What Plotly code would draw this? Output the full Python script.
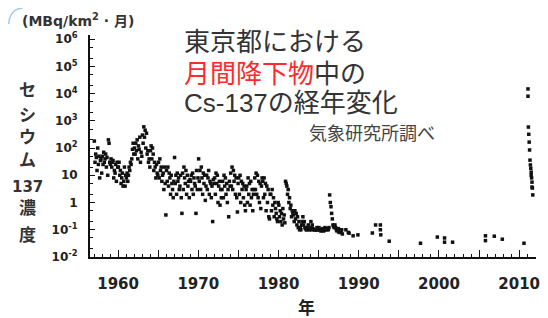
import plotly.graph_objects as go

# ---------------- data (monthly Cs-137 deposition, MBq/km2/month) ----------------
years_monthly = list(range(1957, 1988))
v1957 = [180, 30, 60, 45, 15, 100, 25, 50, 8, 35, 40, 12]
v1958 = [50, 25, 70, 30, 40, 60, 20, 45, 10, 200, 150, 30]
v1959 = [25, 40, 20, 30, 35, 8, 15, 12, 25, 6, 30, 20]
v1960 = [20, 30, 10, 15, 5, 8, 12, 4, 6, 20, 4, 10]
v1961 = [8, 12, 6, 10, 20, 15, 30, 25, 40, 90, 150, 60]
v1962 = [100, 60, 150, 80, 200, 40, 120, 90, 250, 30, 70, 50]
v1963 = [300, 150, 600, 250, 450, 100, 350, 60, 80, 30, 40, 20]
v1964 = [80, 120, 40, 100, 60, 15, 30, 20, 8, 25, 12, 10]
v1965 = [30, 8, 40, 15, 20, 6, 10, 12, 3, 20, 5, 0.35]
v1966 = [15, 6, 20, 4, 12, 8, 2, 10, 5, 3, 1.5, 6]
v1967 = [45, 5, 10, 2, 12, 6, 8, 3, 4, 10, 1.5, 0.4]
v1968 = [12, 3, 20, 8, 5, 15, 2, 10, 4, 6, 1.5, 7]
v1969 = [6, 10, 3, 12, 2, 8, 5, 4, 0.4, 15, 3, 8]
v1970 = [40, 6, 15, 3, 20, 8, 2, 12, 5, 10, 1.2, 4]
v1971 = [10, 3, 8, 15, 2, 6, 5, 1.5, 4, 0.2, 7, 5]
v1972 = [8, 2, 12, 5, 10, 1, 4, 6, 0.8, 3, 1.5, 3]
v1973 = [6, 1.5, 10, 4, 8, 2, 5, 1, 3, 0.3, 6, 4]
v1974 = [12, 4, 20, 3, 15, 6, 10, 2, 8, 1.5, 0.45, 5]
v1975 = [8, 2, 10, 1, 6, 3, 5, 1.5, 4, 0.8, 0.5, 3]
v1976 = [4, 1, 8, 2, 5, 0.8, 6, 1.5, 3, 0.5, 2, 3]
v1977 = [8, 3, 12, 2, 10, 1.5, 6, 1, 5, 0.6, 4, 8]
v1978 = [6, 1.5, 8, 2, 5, 0.5, 4, 1, 3, 0.3, 0.25, 2]
v1979 = [2, 0.5, 3, 0.8, 1.5, 0.3, 1, 0.6, 0.4, 0.25, 0.2, 1]
v1980 = [0.8, 0.3, 0.5, 0.2, 0.4, 0.15, 0.6, 0.25, 0.35, 0.18, 6, 5]
v1981 = [4, 2, 3, 1, 1.5, 0.6, 0.8, 0.3, 0.5, 0.4, 0.35, 0.2]
v1982 = [0.5, 0.25, 0.4, 0.15, 0.3, 0.12, 0.2, 0.1, 0.12, 0.1, 0.15, 0.2]
v1983 = [0.3, 0.15, 0.2, 0.12, 0.11, 0.1, 0.1, 0.12, 0.15, 0.11, 0.1, 0.1]
v1984 = [0.2, 0.12, 0.15, 0.11, 0.1, 0.1, 0.1, 0.1, 0.1, 0.12, 0.1, 0.1]
v1985 = [0.12, 0.1, 0.1, 0.09, 0.1, 0.11, 0.1, 0.09, 0.1, 0.12, 0.1, 0.11]
v1986 = [0.1, 0.11, 0.1, 0.12, 1.9, 1.0, 0.7, 0.4, 0.25, 0.15, 0.13, 0.12]
v1987 = [0.15, 0.12, 0.1, 0.09, 0.1, 0.11, 0.08, 0.1, 0.09, 0.08, 0.1, 0.07]
monthly_values = [v1957, v1958, v1959, v1960, v1961, v1962, v1963, v1964, v1965, v1966,
                  v1967, v1968, v1969, v1970, v1971, v1972, v1973, v1974, v1975, v1976,
                  v1977, v1978, v1979, v1980, v1981, v1982, v1983, v1984, v1985, v1986, v1987]

# sparse detections after 1987
later_dates = [1988.4, 1988.7, 1988.8, 1989.3, 1989.9, 1991.7, 1992.1, 1992.7, 1992.7, 1992.75,
               1993.8, 1997.7, 1999.8, 2000.7, 2000.7, 2001.7, 2005.8, 2005.8, 2006.9, 2007.9, 2010.6]
later_values = [0.1, 0.08, 0.075, 0.06, 0.065, 0.076, 0.15, 0.15, 0.1, 0.065,
                0.038, 0.032, 0.054, 0.05, 0.035, 0.035, 0.06, 0.04, 0.058, 0.045, 0.032]

# 2011 (Fukushima)
fuku_dates = [2011.1, 2011.1, 2011.15, 2011.2, 2011.25, 2011.3, 2011.35, 2011.4,
              2011.45, 2011.5, 2011.5, 2011.55, 2011.6, 2011.6, 2011.65, 2011.7]
fuku_values = [14800, 8000, 590, 320, 165, 85, 36, 24, 18, 13, 10, 8, 5.6, 3.7, 3.4, 1.9]

x_tick_vals = [1960, 1965, 1970, 1975, 1980, 1985, 1990, 1995, 2000, 2005, 2010]
x_tick_text = ["1960", "", "1970", "", "1980", "", "1990", "", "2000", "", "2010"]
y_tick_vals = [1e-2, 1e-1, 1, 10, 1e2, 1e3, 1e4, 1e5, 1e6]
y_tick_text = ["10<sup>-2</sup>", "10<sup>-1</sup>", "1", "10", "10<sup>2</sup>",
               "10<sup>3</sup>", "10<sup>4</sup>", "10<sup>5</sup>", "10<sup>6</sup>"]

# ---------------- build ----------------
xs, ys = [], []
for yr, vals in zip(years_monthly, monthly_values):
    for m, v in enumerate(vals):
        if v is not None:
            xs.append(yr + (m + 0.5) / 12)
            ys.append(v)
xs += later_dates + fuku_dates
ys += later_values + fuku_values

fig = go.Figure()
fig.add_trace(go.Scatter(x=xs, y=ys, mode="markers",
                         marker=dict(symbol="square", size=3.5, color="#111111",
                                     line=dict(width=0)),
                         hoverinfo="skip"))

# page (window) pixel geometry of the plot area; the page body has an 8px margin
OFF = 8
L, R, T, B = 90, 540, 35, 257
W, H = R - L, B - T
FIG_W, FIG_H = 548 - OFF, 318 - OFF


def px(x):
    return (x - L) / W


def py(y):
    return (B - y) / H


num_font = "DejaVu Sans, Liberation Sans, Arial"
jp_font = "Noto Sans CJK JP"

fig.update_layout(
    width=FIG_W, height=FIG_H,
    margin=dict(l=L - OFF, r=FIG_W - (R - OFF), t=T - OFF, b=FIG_H - (B - OFF), pad=0),
    paper_bgcolor="white", plot_bgcolor="white",
    showlegend=False,
    xaxis=dict(range=[1956.5, 2012.1], tickvals=x_tick_vals, ticktext=x_tick_text,
               ticks="inside", ticklen=7, tickwidth=1, tickcolor="#111",
               showline=True, linewidth=2, linecolor="#111",
               showgrid=False, zeroline=False,
               minor=dict(ticks="inside", ticklen=3, dtick=1, tickcolor="#111", tickwidth=1),
               tickfont=dict(family=num_font, size=15, color="#222", weight="bold"),
               ticklabelstandoff=12),
    yaxis=dict(type="log", range=[-2, 6.15], tickvals=y_tick_vals, ticktext=y_tick_text,
               ticks="inside", ticklen=5, tickwidth=1, tickcolor="#111",
               showline=True, linewidth=2, linecolor="#111",
               showgrid=False, zeroline=False,
               minor=dict(ticks="inside", ticklen=3, dtick="D2", tickcolor="#111", tickwidth=1),
               tickfont=dict(family=num_font, size=12, color="#222", weight="bold"),
               ticklabelstandoff=8),
)

ann = []
# unit label
ann.append(dict(x=px(19), y=py(20), xanchor="left", yanchor="middle",
                text="(MBq/km<sup>2</sup> · 月)",
                font=dict(family=num_font + ", " + jp_font, size=14, color="#333", weight="bold")))
# vertical y label
for ch, yy, sz in [("セ", 90, 17), ("シ", 115, 17), ("ウ", 137, 17), ("ム", 160, 17),
                   ("137", 187, 15), ("濃", 208, 17), ("度", 235, 17)]:
    ann.append(dict(x=px(27), y=py(yy), xanchor="center", yanchor="middle", text=ch,
                    font=dict(family=num_font + ", " + jp_font, size=sz, color="#333",
                              weight="bold")))
# x label
ann.append(dict(x=px(308), y=py(306), xanchor="center", yanchor="middle", text="年",
                font=dict(family=jp_font, size=17, color="#222", weight="bold")))
# title block
tf = dict(family="Liberation Sans, " + jp_font, size=26, color="#333")
ann.append(dict(x=px(183), y=py(42), xanchor="left", yanchor="middle",
                text="東京都における", font=tf))
ann.append(dict(x=px(183), y=py(74), xanchor="left", yanchor="middle",
                text="<span style='color:#ff2a2a'>月間降下物</span>中の", font=tf))
ann.append(dict(x=px(183), y=py(103), xanchor="left", yanchor="middle",
                text="Cs-137の経年変化", font=tf))
ann.append(dict(x=px(309), y=py(132), xanchor="left", yanchor="middle",
                text="気象研究所調べ", font=dict(family=jp_font, size=18, color="#444")))
for a in ann:
    a.update(xref="paper", yref="paper", showarrow=False)
fig.update_layout(annotations=ann)

# light-blue frame corner (partly outside the drawable area)
fig.add_shape(type="path", xref="paper", yref="paper",
              path=f"M {px(8)},{py(24)} Q {px(9)},{py(9)} {px(22)},{py(8)}",
              line=dict(color="#9cc8ee", width=1.5))

fig.write_html("out.html")
